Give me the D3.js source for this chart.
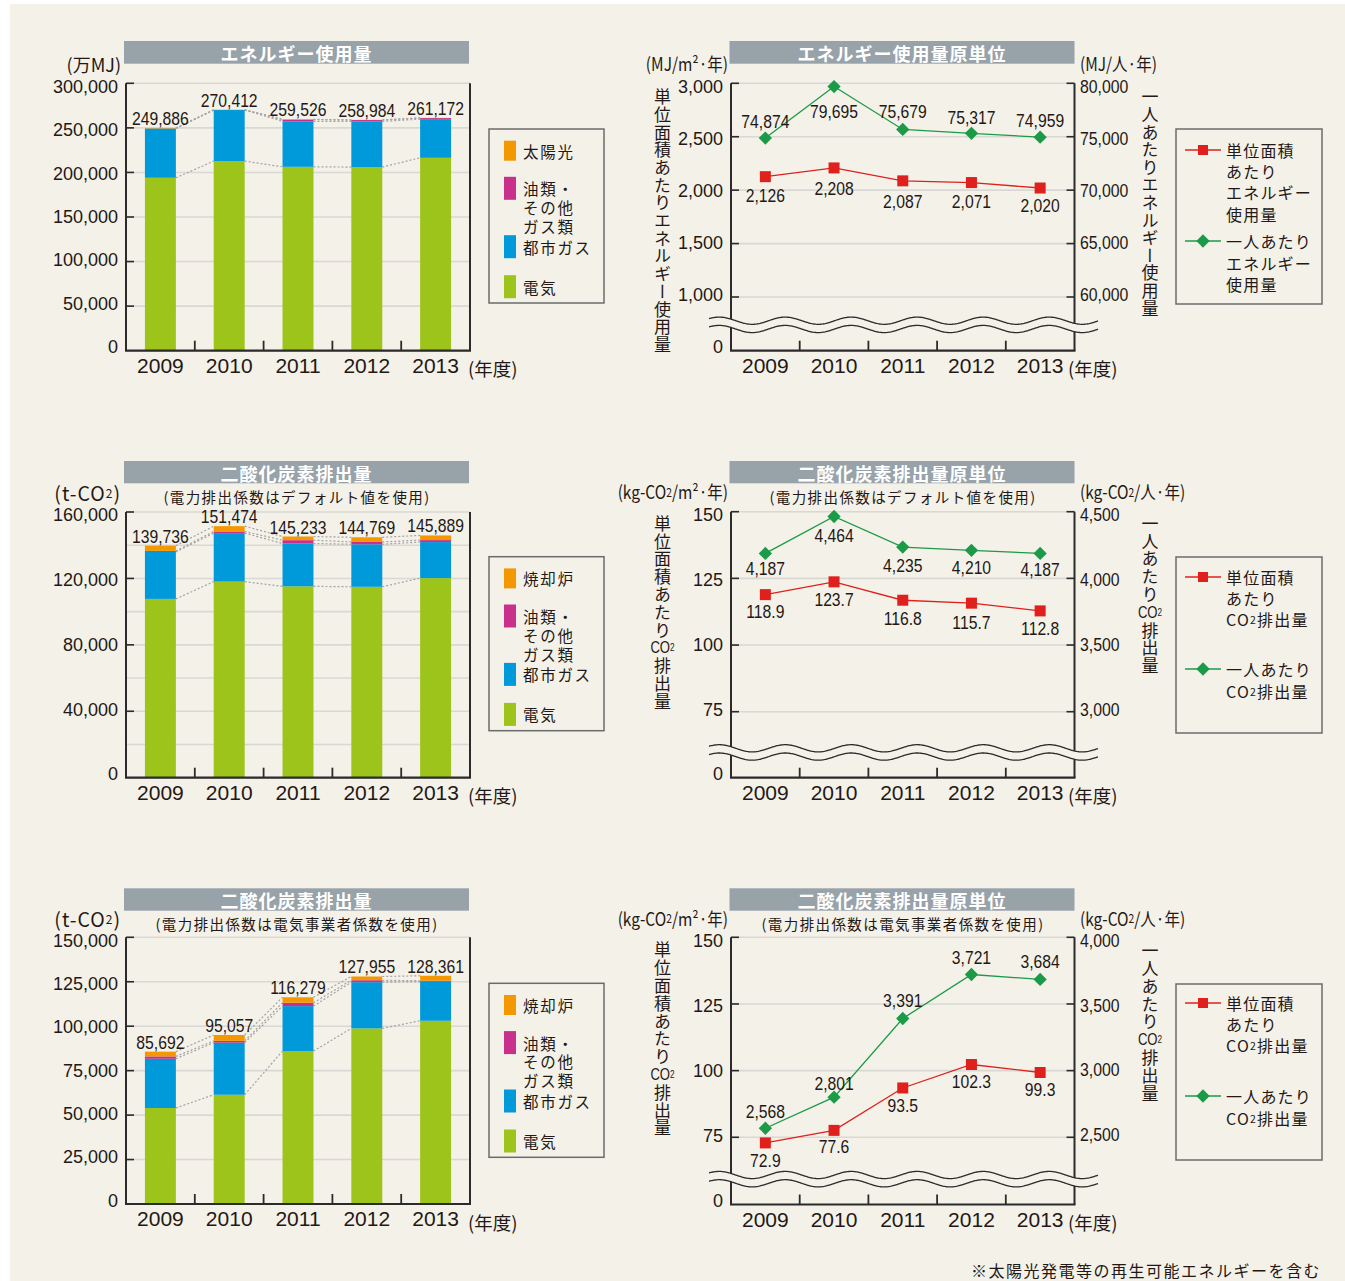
<!DOCTYPE html>
<html>
<head>
<meta charset="utf-8">
<script src="https://cdn.jsdelivr.net/npm/d3@7"></script>
<style>
  html, body { margin: 0; padding: 0; background: #ffffff; }
  svg { display: block; }
</style>
</head>
<body>
<svg id="chart" width="1345" height="1281"></svg>
<script>
// ---------------- data ----------------
const years = ["2009", "2010", "2011", "2012", "2013"];

// エネルギー使用量 (万MJ)
const energyElectric = [194000, 212700, 206300, 206000, 216400];
const energyCityGas  = [55286, 57312, 51026, 51284, 43372];
const energyOil      = [100, 0, 2000, 1500, 1200];
const energySolar    = [500, 400, 200, 200, 200];
const energyTicks    = [0, 50000, 100000, 150000, 200000, 250000, 300000];

// 二酸化炭素排出量 (t-CO2) — デフォルト係数
const co2DefElectric    = [107666, 118074, 115233, 114969, 120189];
const co2DefCityGas     = [28300, 29200, 25800, 25600, 21700];
const co2DefOil         = [600, 1000, 2000, 1400, 1200];
const co2DefIncinerator = [3170, 3200, 2200, 2800, 2800];
const co2DefTicks       = [0, 40000, 80000, 120000, 160000];
const co2DefGrid        = [0, 20000, 40000, 60000, 80000, 100000, 120000, 140000, 160000];

// 二酸化炭素排出量 (t-CO2) — 電気事業者係数
const co2UtilElectric    = [54000, 61457, 86000, 98755, 103061];
const co2UtilCityGas     = [27700, 29300, 25300, 26000, 21900];
const co2UtilOil         = [1300, 1000, 1900, 1100, 600];
const co2UtilIncinerator = [2692, 3300, 3079, 2100, 2800];
const co2UtilTicks       = [0, 25000, 50000, 75000, 100000, 125000, 150000];

// 原単位
const energyPerArea    = [2126, 2208, 2087, 2071, 2020];
const energyPerPerson  = [74874, 79695, 75679, 75317, 74959];
const energyAreaTicks  = [1000, 1500, 2000, 2500, 3000];
const energyPersonTicks = [60000, 65000, 70000, 75000, 80000];

const co2DefPerArea     = [118.9, 123.7, 116.8, 115.7, 112.8];
const co2DefPerPerson   = [4187, 4464, 4235, 4210, 4187];
const co2DefAreaTicks   = [75, 100, 125, 150];
const co2DefPersonTicks = [3000, 3500, 4000, 4500];

const co2UtilPerArea     = [72.9, 77.6, 93.5, 102.3, 99.3];
const co2UtilPerPerson   = [2568, 2801, 3391, 3721, 3684];
const co2UtilAreaTicks   = [75, 100, 125, 150];
const co2UtilPersonTicks = [2500, 3000, 3500, 4000];

// ---------------- styles ----------------
const BG = "#f4f1e9";
const INK = "#231815";
const AXIS = "#2b2b2b";
const GRID = "#d9d8d4";
const TITLE_BAR = "#98a2a9";
const C_ELEC = "#9dc41b", C_GAS = "#0099d9", C_OIL = "#c9308b", C_TOP = "#f39800";
const C_RED = "#e0201c", C_GREEN = "#1b9a48";
const JP = "'Noto Sans CJK JP', 'Noto Sans', sans-serif";
const NUM = "'Liberation Sans', Arial, sans-serif";

const svg = d3.select("#chart");
svg.append("rect").attr("x", 10).attr("y", 4).attr("width", 1335).attr("height", 1277).attr("fill", BG);

// a piece of text; str may be a string or a list of {t, size} runs
function fillRuns(sel, str) {
  if (Array.isArray(str)) str.forEach(s => sel.append("tspan").attr("font-size", s.size || null).text(s.t));
  else sel.text(str);
}

function addText(g, x, y, str, o = {}) {
  const t = g.append("text")
    .attr("transform", `translate(${x},${y})` + (o.sx ? ` scale(${o.sx},1)` : ""))
    .attr("text-anchor", o.anchor || "middle")
    .attr("dominant-baseline", o.baseline || "central")
    .attr("font-family", o.font || NUM)
    .attr("font-size", o.size || 18)
    .attr("font-weight", o.weight || "normal")
    .attr("letter-spacing", o.ls || 0)
    .attr("fill", o.fill || INK);
  fillRuns(t, str);
  return t;
}

// legend labels: one text element, each line placed at its own y
function addLineBlock(g, x, entries, o = {}) {
  const t = g.append("text")
    .attr("text-anchor", "start")
    .attr("dominant-baseline", "central")
    .attr("font-family", JP)
    .attr("font-size", o.size || 16)
    .attr("letter-spacing", o.ls || 0)
    .attr("fill", INK);
  entries.forEach(e => {
    const sp = t.append("tspan").attr("x", x).attr("y", e.y);
    fillRuns(sp, e.text);
  });
  return t;
}

// top-to-bottom axis title; "CO2" is set upright as one unit
function verticalText(g, x, y0, step, items, size) {
  let i = 0;
  while (i < items.length) {
    if (items[i] === "CO2") {
      addText(g, x, y0 + i * step, [{ t: "CO" }, { t: "2", size: 10 }], { font: NUM, size: 16, sx: 0.82 });
      i += 1;
      continue;
    }
    let j = i;
    while (j < items.length && items[j] !== "CO2") j++;
    const run = items.slice(i, j).join("");
    g.append("text")
      .attr("x", x).attr("y", y0 + i * step - size / 2)
      .style("writing-mode", "vertical-rl")
      .attr("font-family", JP).attr("font-size", size)
      .attr("letter-spacing", step - size)
      .attr("fill", INK)
      .text(run);
    i = j;
  }
}

function titleBar(g, x0, x1, y, h, title) {
  g.append("rect").attr("x", x0).attr("y", y).attr("width", x1 - x0).attr("height", h).attr("fill", TITLE_BAR);
  addText(g, (x0 + x1) / 2, y + h / 2 + 0.5, title, { font: JP, size: 18, weight: "bold", fill: "#ffffff", ls: 1 });
}

const fmtComma = d3.format(",");

// ---------------- stacked bar panels ----------------
function barPanel(cfg) {
  const g = svg.append("g");
  const x0 = 126, x1 = 470;
  const r = cfg.row;
  const x = d3.scaleBand().domain(years).range([x0, x1]).paddingInner(0.55).paddingOuter(0.275);
  const y = d3.scaleLinear().domain([0, cfg.max]).range([r.bottom, r.top]);

  titleBar(g, 124, 469, r.barY, r.barH, cfg.title);
  if (cfg.subtitle) addText(g, 297, r.subY, cfg.subtitle, { font: JP, size: 14.5, ls: 1.4 });
  addText(g, 121, r.unitY, cfg.unit, { font: JP, size: cfg.unitSize || 17, anchor: "end", ls: cfg.unitLs || 0 });

  // grid
  g.selectAll("line.grid").data(cfg.grid).join("line")
    .attr("x1", x0).attr("x2", x1).attr("y1", d => y(d)).attr("y2", d => y(d))
    .attr("stroke", GRID).attr("stroke-width", 1.6);

  // stack
  const rows = years.map((yr, i) => {
    const o = { year: yr };
    cfg.series.forEach(s => { o[s.key] = s.values[i]; });
    return o;
  });
  const stack = d3.stack().keys(cfg.series.map(s => s.key))(rows);

  // dotted connectors between neighbouring bars
  const bw = x.bandwidth();
  stack.forEach(layer => {
    for (let i = 0; i < years.length - 1; i++) {
      g.append("line")
        .attr("x1", x(years[i]) + bw).attr("y1", y(layer[i][1]))
        .attr("x2", x(years[i + 1])).attr("y2", y(layer[i + 1][1]))
        .attr("stroke", "#a3a3a3").attr("stroke-width", 1.2).attr("stroke-dasharray", "2,2");
    }
  });

  stack.forEach((layer, li) => {
    g.selectAll(null).data(layer).join("rect")
      .attr("x", (d, i) => x(years[i])).attr("width", bw)
      .attr("y", d => y(d[1])).attr("height", d => y(d[0]) - y(d[1]))
      .attr("fill", cfg.series[li].color);
  });

  // totals
  const top = stack[stack.length - 1];
  top.forEach((d, i) => {
    addText(g, x(years[i]) + bw / 2, y(d[1]) - 3, fmtComma(d[1]), { size: 18.5, sx: 0.85, baseline: "auto" });
  });

  // axes
  g.append("line").attr("x1", x0).attr("x2", x0).attr("y1", r.top).attr("y2", r.bottom).attr("stroke", AXIS).attr("stroke-width", 2);
  g.append("line").attr("x1", x1).attr("x2", x1).attr("y1", r.top).attr("y2", r.bottom).attr("stroke", AXIS).attr("stroke-width", 2);
  g.append("line").attr("x1", x0 - 1).attr("x2", x1 + 1).attr("y1", r.bottom).attr("y2", r.bottom).attr("stroke", AXIS).attr("stroke-width", 2.2);
  const mid = (r.top + r.bottom) / 2;
  cfg.ticks.forEach(t => {
    if (t !== 0) g.append("line").attr("x1", x0).attr("x2", x0 + 8).attr("y1", y(t)).attr("y2", y(t)).attr("stroke", AXIS).attr("stroke-width", 1.6);
    const ly = y(t) + (mid - y(t)) * 0.026;
    addText(g, 118, ly, fmtComma(t), { size: 18, anchor: "end" });
  });
  for (let k = 1; k < years.length; k++) {
    const bx = x0 + k * x.step();
    g.append("line").attr("x1", bx).attr("x2", bx).attr("y1", r.bottom).attr("y2", r.bottom - 10).attr("stroke", AXIS).attr("stroke-width", 1.8);
  }
  years.forEach(yr => addText(g, x(yr) + bw / 2, r.bottom + 22, yr, { size: 21, baseline: "auto" }));
  addText(g, 468, r.bottom + 25.5, "(年度)", { font: JP, size: 18.5, anchor: "start", baseline: "auto" });

  // legend
  const L = r.legendTop;
  g.append("rect").attr("x", 489).attr("y", L).attr("width", 115).attr("height", 174)
    .attr("fill", "none").attr("stroke", "#6b6b6b").attr("stroke-width", 1.5);
  const centers = [21.7, 59.3, 117.7, 157.7];
  const entries = [];
  cfg.legend.forEach((it, i) => {
    const cy = L + centers[i];
    g.append("rect").attr("x", 504).attr("y", cy - (i === 0 ? 10 : 11.5)).attr("width", 12).attr("height", i === 0 ? 20 : 23).attr("fill", it.color);
    it.lines.forEach((ln, j) => entries.push({ y: cy + j * 18.8, text: ln }));
  });
  addLineBlock(g, 523, entries, { size: 15.5, ls: 1.7 });
}

// ---------------- dual-axis intensity panels ----------------
function wavePts(xa, xb, yc) {
  const pts = [];
  for (let xx = xa; xx <= xb; xx += 1) pts.push([xx, yc - 3.6 * Math.sin((xx - xa) / 66 * 2 * Math.PI + 0.6)]);
  return pts;
}

function linePanel(cfg) {
  const g = svg.append("g");
  const x0 = 731, x1 = 1074.5;
  const r = cfg.row;
  const x = d3.scalePoint().domain(years).range([x0, x1]).padding(0.5);
  const step = (x1 - x0) / years.length;
  const yL = d3.scaleLinear().domain(d3.extent(cfg.leftTicks)).range([r.low, r.top]);
  const yR = d3.scaleLinear().domain(d3.extent(cfg.rightTicks)).range([r.low, r.top]);

  titleBar(g, 729.5, 1074.5, r.barY, r.barH, cfg.title);
  if (cfg.subtitle) addText(g, 903, r.subY, cfg.subtitle, { font: JP, size: 14.5, ls: 1.4 });
  addText(g, 728, r.unitY, cfg.unitLeft, { font: JP, size: 18, anchor: "end", sx: 0.86 });
  addText(g, 1080, r.unitY, cfg.unitRight, { font: JP, size: 18, anchor: "start", sx: 0.86 });

  // grid
  cfg.leftTicks.forEach(t => g.append("line").attr("x1", x0).attr("x2", x1).attr("y1", yL(t)).attr("y2", yL(t)).attr("stroke", GRID).attr("stroke-width", 1.6));

  // axes
  [x0, x1].forEach(ax => g.append("line").attr("x1", ax).attr("x2", ax).attr("y1", r.top).attr("y2", r.bottom).attr("stroke", AXIS).attr("stroke-width", 2));
  g.append("line").attr("x1", x0 - 1).attr("x2", x1 + 1).attr("y1", r.bottom).attr("y2", r.bottom).attr("stroke", AXIS).attr("stroke-width", 2.2);
  const mid = (r.top + r.bottom) / 2;
  cfg.leftTicks.forEach(t => {
    g.append("line").attr("x1", x0).attr("x2", x0 + 8).attr("y1", yL(t)).attr("y2", yL(t)).attr("stroke", AXIS).attr("stroke-width", 1.6);
    addText(g, 723, yL(t) + (mid - yL(t)) * 0.026, cfg.leftFmt(t), { size: 18, anchor: "end" });
  });
  addText(g, 723, r.bottom - 4, "0", { size: 18, anchor: "end" });
  cfg.rightTicks.forEach(t => {
    g.append("line").attr("x1", x1).attr("x2", x1 - 8).attr("y1", yR(t)).attr("y2", yR(t)).attr("stroke", AXIS).attr("stroke-width", 1.6);
    addText(g, 1080, yR(t) + (mid - yR(t)) * 0.026, fmtComma(t), { size: 18, anchor: "start", sx: 0.88 });
  });
  for (let k = 1; k < years.length; k++) {
    const bx = x0 + k * step;
    g.append("line").attr("x1", bx).attr("x2", bx).attr("y1", r.bottom).attr("y2", r.bottom - 10).attr("stroke", AXIS).attr("stroke-width", 1.8);
  }
  years.forEach(yr => addText(g, x(yr), r.bottom + 22, yr, { size: 21, baseline: "auto" }));
  addText(g, 1068, r.bottom + 25.5, "(年度)", { font: JP, size: 18.5, anchor: "start", baseline: "auto" });

  // axis break
  const up = wavePts(709, 1098, r.waveY), lo = wavePts(709, 1098, r.waveY + 8.3);
  g.append("path").attr("d", d3.line()(up.concat(lo.slice().reverse())) + "Z").attr("fill", BG);
  [up, lo].forEach(p => g.append("path").attr("d", d3.line()(p)).attr("fill", "none").attr("stroke", AXIS).attr("stroke-width", 1.3));

  // series lines
  const line = (scale, vals) => d3.line().x((d, i) => x(years[i])).y(d => scale(d))(vals);
  g.append("path").attr("d", line(yL, cfg.leftValues)).attr("fill", "none").attr("stroke", C_RED).attr("stroke-width", 1.3);
  g.append("path").attr("d", line(yR, cfg.rightValues)).attr("fill", "none").attr("stroke", C_GREEN).attr("stroke-width", 1.3);
  cfg.leftValues.forEach((v, i) => {
    g.append("rect").attr("x", x(years[i]) - 5.5).attr("y", yL(v) - 5.5).attr("width", 11).attr("height", 11).attr("fill", C_RED);
    addText(g, x(years[i]), yL(v) + cfg.leftDy[i], cfg.leftFmt(v), { size: 18.5, sx: 0.85 });
  });
  cfg.rightValues.forEach((v, i) => {
    g.append("rect").attr("x", -4.7).attr("y", -4.7).attr("width", 9.4).attr("height", 9.4).attr("fill", C_GREEN)
      .attr("transform", `translate(${x(years[i])},${yR(v)}) rotate(45)`);
    addText(g, x(years[i]), yR(v) + cfg.rightDy[i], fmtComma(v), { size: 18.5, sx: 0.85 });
  });

  // vertical axis titles
  verticalText(g, 662.5, r.vL, cfg.vStepL, cfg.vLeft, 17);
  verticalText(g, 1150, r.vR, cfg.vStepR, cfg.vRight, 17);

  // legend
  const L = r.legendTop;
  g.append("rect").attr("x", 1176).attr("y", L).attr("width", 146).attr("height", cfg.legendH)
    .attr("fill", "none").attr("stroke", "#6b6b6b").attr("stroke-width", 1.5);
  const ry = L + cfg.legendRed, gy = L + 112;
  g.append("line").attr("x1", 1185).attr("x2", 1221).attr("y1", ry).attr("y2", ry).attr("stroke", C_RED).attr("stroke-width", 1.3);
  g.append("rect").attr("x", 1198).attr("y", ry - 5).attr("width", 10).attr("height", 10).attr("fill", C_RED);
  g.append("line").attr("x1", 1185).attr("x2", 1221).attr("y1", gy).attr("y2", gy).attr("stroke", C_GREEN).attr("stroke-width", 1.3);
  g.append("rect").attr("x", -4.7).attr("y", -4.7).attr("width", 9.4).attr("height", 9.4).attr("fill", C_GREEN)
    .attr("transform", `translate(1203,${gy}) rotate(45)`);
  const co2Line = [{ t: "CO" }, { t: "2", size: 10.5 }, { t: "排出量" }];
  const toRuns = ln => ln === "CO2排出量" ? co2Line : ln;
  const entries = cfg.legendRedLines.map((ln, j) => ({ y: ry + j * 21.2, text: toRuns(ln) }))
    .concat(cfg.legendGreenLines.map((ln, j) => ({ y: gy + j * 21.5, text: toRuns(ln) })));
  addLineBlock(g, 1226, entries, { size: 16, ls: 1.2 });
}

// ---------------- draw ----------------
const topBarLegend = name => [
  { color: C_TOP, lines: [name] },
  { color: C_OIL, lines: ["油類・", "その他", "ガス類"] },
  { color: C_GAS, lines: ["都市ガス"] },
  { color: C_ELEC, lines: ["電気"] }
];
const tco2 = [{ t: "(t-CO" }, { t: "2", size: 12 }, { t: ")" }];

barPanel({
  row: { top: 83.3, bottom: 350.7, barY: 41, barH: 22.7, unitY: 63.5, legendTop: 129 },
  title: "エネルギー使用量", unit: "(万MJ)", unitSize: 18, max: 300000,
  ticks: energyTicks, grid: energyTicks,
  series: [
    { key: "elec", values: energyElectric, color: C_ELEC },
    { key: "gas", values: energyCityGas, color: C_GAS },
    { key: "oil", values: energyOil, color: C_OIL },
    { key: "top", values: energySolar, color: C_TOP }
  ],
  legend: topBarLegend("太陽光")
});

barPanel({
  row: { top: 512, bottom: 777.7, barY: 461, barH: 22.3, subY: 496.7, unitY: 492, legendTop: 556.7 },
  title: "二酸化炭素排出量", subtitle: "(電力排出係数はデフォルト値を使用)",
  unit: tco2, unitSize: 19.5, unitLs: 1, max: 160000,
  ticks: co2DefTicks, grid: co2DefGrid,
  series: [
    { key: "elec", values: co2DefElectric, color: C_ELEC },
    { key: "gas", values: co2DefCityGas, color: C_GAS },
    { key: "oil", values: co2DefOil, color: C_OIL },
    { key: "top", values: co2DefIncinerator, color: C_TOP }
  ],
  legend: topBarLegend("焼却炉")
});

barPanel({
  row: { top: 937.3, bottom: 1204, barY: 888.3, barH: 22.4, subY: 923, unitY: 918.3, legendTop: 983.3 },
  title: "二酸化炭素排出量", subtitle: "(電力排出係数は電気事業者係数を使用)",
  unit: tco2, unitSize: 19.5, unitLs: 1, max: 150000,
  ticks: co2UtilTicks, grid: co2UtilTicks,
  series: [
    { key: "elec", values: co2UtilElectric, color: C_ELEC },
    { key: "gas", values: co2UtilCityGas, color: C_GAS },
    { key: "oil", values: co2UtilOil, color: C_OIL },
    { key: "top", values: co2UtilIncinerator, color: C_TOP }
  ],
  legend: topBarLegend("焼却炉")
});

const co2VLeft = [..."単位面積あたり", "CO2", ..."排出量"];
const co2VRight = [..."一人あたり", "CO2", ..."排出量"];
const kgArea = [{ t: "(kg-CO" }, { t: "2", size: 12 }, { t: "/m²·年)" }];
const kgPerson = [{ t: "(kg-CO" }, { t: "2", size: 12 }, { t: "/人·年)" }];
const oneDecimal = d3.format(".1f");

linePanel({
  row: { top: 83.3, low: 297, waveY: 320.7, bottom: 350.7, barY: 41, barH: 22.7, unitY: 63.3, vL: 96.7, vR: 97, legendTop: 129 },
  title: "エネルギー使用量原単位",
  unitLeft: "(MJ/m²·年)", unitRight: "(MJ/人·年)",
  leftTicks: energyAreaTicks, rightTicks: energyPersonTicks,
  leftValues: energyPerArea, rightValues: energyPerPerson,
  leftFmt: fmtComma,
  leftDy: [19, 21, 21, 19, 18], rightDy: [-17, 25, -18, -16, -17],
  vLeft: [..."単位面積あたりエネルギー使用量"], vStepL: 17.7,
  vRight: [..."一人あたりエネルギー使用量"], vStepR: 17.6,
  legendH: 175, legendRed: 21,
  legendRedLines: ["単位面積", "あたり", "エネルギー", "使用量"],
  legendGreenLines: ["一人あたり", "エネルギー", "使用量"]
});

linePanel({
  row: { top: 511.7, low: 711.7, waveY: 748.3, bottom: 777.7, barY: 461, barH: 22.3, subY: 496.7, unitY: 491.7, vL: 523.3, vR: 523.3, legendTop: 557 },
  title: "二酸化炭素排出量原単位", subtitle: "(電力排出係数はデフォルト値を使用)",
  unitLeft: kgArea, unitRight: kgPerson,
  leftTicks: co2DefAreaTicks, rightTicks: co2DefPersonTicks,
  leftValues: co2DefPerArea, rightValues: co2DefPerPerson,
  leftFmt: v => co2DefAreaTicks.includes(v) ? String(v) : oneDecimal(v),
  leftDy: [17, 18, 18, 19, 18], rightDy: [15, 19, 19, 17, 16],
  vLeft: co2VLeft, vStepL: 17.8, vRight: co2VRight, vStepR: 17.8,
  legendH: 176, legendRed: 20,
  legendRedLines: ["単位面積", "あたり", "CO2排出量"],
  legendGreenLines: ["一人あたり", "CO2排出量"]
});

linePanel({
  row: { top: 937.3, low: 1137.3, waveY: 1175, bottom: 1204.5, barY: 888.3, barH: 22.4, subY: 923, unitY: 918, vL: 950, vR: 950.7, legendTop: 984 },
  title: "二酸化炭素排出量原単位", subtitle: "(電力排出係数は電気事業者係数を使用)",
  unitLeft: kgArea, unitRight: kgPerson,
  leftTicks: co2UtilAreaTicks, rightTicks: co2UtilPersonTicks,
  leftValues: co2UtilPerArea, rightValues: co2UtilPerPerson,
  leftFmt: v => co2UtilAreaTicks.includes(v) ? String(v) : oneDecimal(v),
  leftDy: [18, 16, 18, 17, 17], rightDy: [-17, -14, -18, -17, -18],
  vLeft: co2VLeft, vStepL: 17.8, vRight: co2VRight, vStepR: 17.8,
  legendH: 176, legendRed: 19,
  legendRedLines: ["単位面積", "あたり", "CO2排出量"],
  legendGreenLines: ["一人あたり", "CO2排出量"]
});

// footnote
addText(svg, 971, 1270, "※太陽光発電等の再生可能エネルギーを含む", { font: JP, size: 16, anchor: "start", ls: 1.5 });
</script>
</body>
</html>
